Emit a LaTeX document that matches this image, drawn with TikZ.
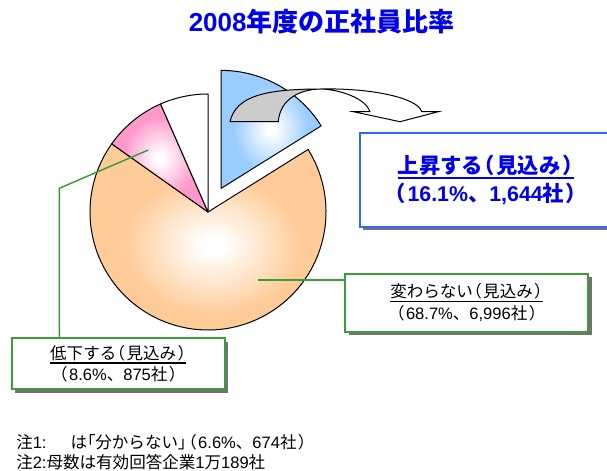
\documentclass[tikz,border=0pt]{standalone}
\usepackage{fontspec}
\setmainfont{Liberation Sans}
\newfontfamily\jp{Noto Sans CJK JP}
\newfontfamily\jpp[RawFeature=+palt]{Noto Sans CJK JP}
\usetikzlibrary{shadows}
\definecolor{orangeC}{RGB}{255,204,153}
\definecolor{pinkC}{RGB}{255,153,204}
\definecolor{blueC}{RGB}{153,204,255}
\definecolor{titleblue}{RGB}{0,0,235}
\definecolor{boxblue}{RGB}{51,102,255}
\definecolor{boxgreen}{RGB}{60,155,60}
\definecolor{arrowgray}{RGB}{204,204,204}
\pgfdeclareradialshading{sorange}{\pgfpoint{0bp}{0bp}}{color(0bp)=(white); color(2bp)=(white); color(17bp)=(orangeC); color(50bp)=(orangeC)}
\pgfdeclareradialshading{spink}{\pgfpoint{0bp}{0bp}}{color(0bp)=(white); color(2bp)=(white); color(19bp)=(pinkC); color(50bp)=(pinkC)}
\pgfdeclareradialshading{sblue}{\pgfpoint{0bp}{0bp}}{color(0bp)=(white); color(2bp)=(white); color(19bp)=(blueC); color(50bp)=(blueC)}
\newcommand\myul[3]{\setbox0=\hbox{#3}\leavevmode\vtop{\copy0\kern#2\hrule height #1 width\wd0}}
\newcommand\po{{\jpp （}\hspace{0.12em}}
\newcommand\pc{\hspace{0.12em}{\jpp ）}}
\tikzset{
  slice/.style={draw=black, line width=0.75pt, line join=round},
  shadowbox/.style={line width=1.5pt, fill=white, align=center,
     drop shadow={shadow xshift=2.6pt, shadow yshift=-2.6pt, fill=black!55, opacity=1}},
  bluebox/.style={shadowbox, draw=boxblue, text=titleblue, font=\bfseries\fontsize{16}{21}\selectfont},
  greenbox/.style={shadowbox, draw=boxgreen, font=\fontsize{12.4}{16.3}\selectfont},
  conn/.style={draw=boxgreen, line width=1.1pt},
  note/.style={anchor=west, inner sep=0pt, font=\fontsize{12.4}{15}\selectfont}
}
\begin{document}
\begin{tikzpicture}[x=0.75pt,y=0.75pt]
\useasboundingbox (0,0) rectangle (607,471);
% title
\node[text=titleblue, font=\bfseries\fontsize{19.5}{23}\selectfont] (title) at (321.7,449.3) {2008{\jp 年度の正社員比率}};
% pie
\coordinate (C) at (208,259);
\coordinate (Cb) at (221.1,282.6);
\shadedraw[shading=sorange, slice] (C) -- ++(32:118) arc[start angle=32, end angle=-215.3, radius=118] -- cycle;
\shadedraw[shading=spink, slice] (C) -- ++(144.7:118) arc[start angle=144.7, end angle=113.7, radius=118] -- cycle;
\draw[slice, fill=white] (C) -- ++(113.7:118) arc[start angle=113.7, end angle=90, radius=118] -- cycle;
\shadedraw[shading=sblue, slice] (Cb) -- ++(90:118) arc[start angle=90, end angle=32, radius=118] -- cycle;
% curved arrow
\coordinate (aA) at (230,349.3);
\coordinate (aB) at (278.3,349.3);
\coordinate (aT) at (321.7,382);
\coordinate (aR1) at (421.7,359.3);
\coordinate (aR2) at (438.3,359.3);
\coordinate (aTip) at (400,349.3);
\coordinate (aL2) at (353.3,359.3);
\coordinate (aL1) at (370,359.3);
\draw[line width=0.75pt, fill=white, line join=miter] (aT) .. controls (372,383) and (418,373) .. (aR1) -- (aR2) -- (aTip) -- (aL2) -- (aL1) .. controls (366,372) and (342,381) .. (aT) -- cycle;
\draw[line width=0.75pt, fill=arrowgray] (aA) .. controls (236,375) and (265,382) .. (aT) .. controls (300,382) and (280,372) .. (aB) -- cycle;
% boxes
\node[bluebox, minimum width=188.7pt, minimum height=70pt] (up) at (485.8,291)
  {\myul{1.5pt}{1.2pt}{{\jp 上昇する}\po{\jp 見込み}\pc}\\\po 16.1\%{\jp 、}1,644{\jp 社}\pc};
\node[greenbox, minimum width=182.5pt, minimum height=43.3pt] (same) at (466.7,168.2)
  {\myul{1.1pt}{1pt}{{\jp 変わらない}\po{\jp 見込み}\pc}\\\po 68.7\%{\jp 、}6,996{\jp 社}\pc};
\node[greenbox, minimum width=160pt, minimum height=38.25pt] (down) at (118.3,107.2)
  {\myul{1.1pt}{1pt}{{\jp 低下する}\po{\jp 見込み}\pc}\\\po 8.6\%{\jp 、}875{\jp 社}\pc};
% connectors
\coordinate (pOr) at (258.3,191);
\coordinate (pPk) at (148.3,321);
\coordinate (bend) at (59.3,282.7);
\draw[conn] (pOr) -- (pOr -| same.west);
\draw[conn] (down.north -| bend) -- (bend) -- (pPk);
% notes
\node[note] (n1) at (16,28.5) {{\jp 注}1:\hspace{18pt}{\jp は}{\jpp 「}{\jp 分からない}{\jpp 」}\hspace{0.1em}\po 6.6\%{\jp 、}674{\jp 社}\pc};
\node[note] (n2) at (16,8.5) {{\jp 注}2:{\jp 母数は有効回答企業}1{\jp 万}189{\jp 社}};
\end{tikzpicture}
\end{document}
